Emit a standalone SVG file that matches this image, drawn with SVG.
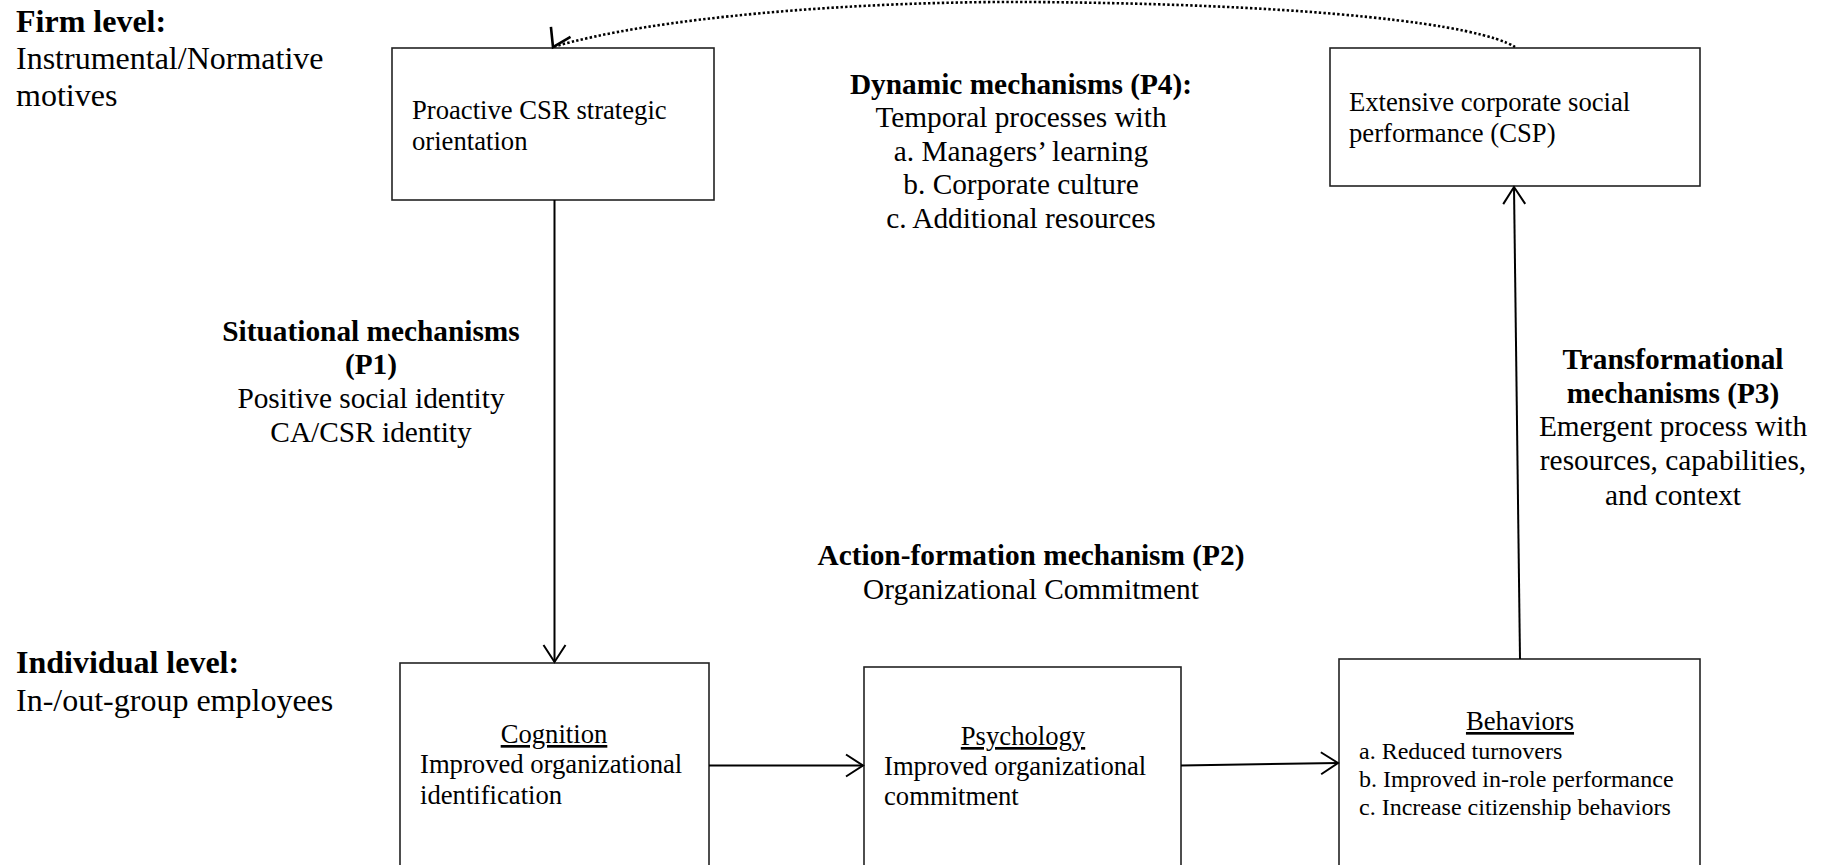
<svg xmlns="http://www.w3.org/2000/svg" width="1827" height="865" viewBox="0 0 1827 865">
<style>
text{font-family:"Liberation Serif","Times New Roman",serif;fill:#000}
.xl{font-size:32px}
.l{font-size:29.33px}
.b{font-weight:bold}
.m{text-anchor:middle}
.n{font-size:26.67px}
.s{font-size:24px}
.u{text-decoration:underline}
.box{fill:#fff;stroke:#222;stroke-width:1.6}
.con{fill:none;stroke:#000;stroke-width:2}
.dot{fill:none;stroke:#000;stroke-width:2.6;stroke-dasharray:2.4 2.2}
</style>
<defs>
<marker id="ah" markerUnits="userSpaceOnUse" markerWidth="22" markerHeight="26" viewBox="0 0 22 26" refX="19" refY="13" orient="auto">
<path d="M2,2 L19,13 L2,24" fill="none" stroke="#000" stroke-width="2"/>
</marker>
<marker id="ahd" markerUnits="userSpaceOnUse" markerWidth="22" markerHeight="26" viewBox="0 0 22 26" refX="19" refY="13" orient="117">
<path d="M2,2 L19,13 L2,24" fill="none" stroke="#000" stroke-width="2.6"/>
</marker>
</defs>
<rect width="1827" height="865" fill="#fff"/>

<g id="firm-level">
<text class="xl b" x="16" y="32">Firm level:</text>
<text class="xl" x="16" y="69">Instrumental/Normative</text>
<text class="xl" x="16" y="106">motives</text>
</g>

<g id="individual-level">
<text class="xl b" x="16" y="673">Individual level:</text>
<text class="xl" x="16" y="711">In-/out-group employees</text>
</g>

<g id="dynamic">
<text class="l b m" x="1021" y="94">Dynamic mechanisms (P4):</text>
<text class="l m" x="1021" y="127">Temporal processes with</text>
<text class="l m" x="1021" y="161">a. Managers’ learning</text>
<text class="l m" x="1021" y="194">b. Corporate culture</text>
<text class="l m" x="1021" y="228">c. Additional resources</text>
</g>

<g id="situational">
<text class="l b m" x="371" y="341">Situational mechanisms</text>
<text class="l b m" x="371" y="374">(P1)</text>
<text class="l m" x="371" y="408">Positive social identity</text>
<text class="l m" x="371" y="442">CA/CSR identity</text>
</g>

<g id="transformational">
<text class="l b m" x="1673" y="369">Transformational</text>
<text class="l b m" x="1673" y="403">mechanisms (P3)</text>
<text class="l m" x="1673" y="436">Emergent process with</text>
<text class="l m" x="1673" y="470">resources, capabilities,</text>
<text class="l m" x="1673" y="505">and context</text>
</g>

<g id="action-formation">
<text class="l b m" x="1031" y="565">Action-formation mechanism (P2)</text>
<text class="l m" x="1031" y="599">Organizational Commitment</text>
</g>

<g id="proactive">
<rect class="box" x="392" y="48" width="322" height="152"/>
<text class="n" x="412" y="119">Proactive CSR strategic</text>
<text class="n" x="412" y="150">orientation</text>
</g>

<g id="csp">
<rect class="box" x="1330" y="48" width="370" height="138"/>
<text class="n" x="1349" y="111">Extensive corporate social</text>
<text class="n" x="1349" y="142">performance (CSP)</text>
</g>

<g id="cognition">
<rect class="box" x="400" y="663" width="309" height="210"/>
<text class="n m u" x="554" y="743">Cognition</text>
<text class="n" x="420" y="773">Improved organizational</text>
<text class="n" x="420" y="804">identification</text>
</g>

<g id="psychology">
<rect class="box" x="864" y="667" width="317" height="206"/>
<text class="n m u" x="1023" y="745">Psychology</text>
<text class="n" x="884" y="775">Improved organizational</text>
<text class="n" x="884" y="805">commitment</text>
</g>

<g id="behaviors">
<rect class="box" x="1339" y="659" width="361" height="214"/>
<text class="n m u" x="1520" y="730">Behaviors</text>
<text class="s" x="1359" y="759">a. Reduced turnovers</text>
<text class="s" x="1359" y="787">b. Improved in-role performance</text>
<text class="s" x="1359" y="815">c. Increase citizenship behaviors</text>
</g>

<g id="connectors">
<line class="con" x1="554.5" y1="200" x2="554.5" y2="662" marker-end="url(#ah)"/>
<line class="con" x1="709" y1="765.5" x2="863" y2="765.5" marker-end="url(#ah)"/>
<line class="con" x1="1181" y1="765.5" x2="1338" y2="763" marker-end="url(#ah)"/>
<line class="con" x1="1520" y1="659" x2="1514" y2="187" marker-end="url(#ah)"/>
<path class="dot" d="M1515,47 C1480,25 1320,4 1030,2 C850,1 650,18 553,47" marker-end="url(#ahd)"/>
</g>
</svg>
